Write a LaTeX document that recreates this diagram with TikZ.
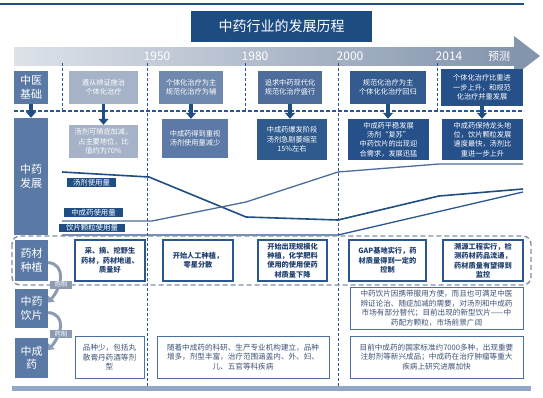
\documentclass[tikz,border=0pt]{standalone}
\usepackage{fontspec}
\setmainfont{Noto Sans CJK SC}
\newfontfamily\latinf{Carlito}
\usetikzlibrary{arrows.meta,calc}
\definecolor{navy}{HTML}{1F4E85}
\definecolor{titlec}{HTML}{1D4C82}
\definecolor{labc}{HTML}{5A79A5}
\definecolor{vline}{HTML}{2B5790}
\definecolor{ca}{HTML}{A5B2C8}
\definecolor{cb}{HTML}{7089AE}
\definecolor{cc}{HTML}{4D6C9B}
\definecolor{cd}{HTML}{335B8F}
\definecolor{ce}{HTML}{25508A}
\definecolor{cf}{HTML}{5D79A5}
\definecolor{cg}{HTML}{2E5A8E}
\definecolor{bandL}{HTML}{DDE2E9}
\definecolor{bandR}{HTML}{8394AD}
\definecolor{midline}{HTML}{4C6D9C}
\definecolor{wtext}{HTML}{1F3F6F}
\definecolor{gtext}{HTML}{3D5275}
\definecolor{rowdash}{HTML}{7F90A8}
\definecolor{curvec}{HTML}{8C9BB2}
\definecolor{barc}{HTML}{93A8C6}
\definecolor{pure}{HTML}{FFFFFF}
\tikzset{
  lab/.style={fill=labc, text=white, inner sep=0pt, align=center, font=\fontsize{11}{13.5}\selectfont},
  fbox/.style={text=white, inner sep=0pt, align=center, font=\fontsize{7.2}{9.3}\selectfont},
  wbox/.style={draw=vline, line width=1.2pt, fill=white, text=wtext, inner sep=0pt, align=center, font=\fontsize{7.2}{9.4}\bfseries\selectfont},
  tbox/.style={draw=vline!85, line width=1pt, fill=white, text=gtext, inner sep=0pt, align=center, font=\fontsize{7.6}{9.6}\selectfont},
  yearbox/.style={text=pure, inner sep=0pt, align=center, minimum height=13pt, font=\fontsize{12}{14}\selectfont},
  vdash/.style={draw=vline, line width=1pt, dash pattern=on 3pt off 2pt},
  downarr/.style={draw=navy, line width=3.6pt, -{Triangle[width=10pt,length=6pt]}},
  curlab/.style={fill=curvec, text=white, inner sep=0pt, minimum width=22pt, minimum height=8pt, font=\fontsize{6.3}{7}\selectfont},
  curarr/.style={draw=curvec, line width=3pt, -{Triangle[width=8.5pt,length=5pt]}},
  linelab/.style={fill=navy, text=white, inner sep=0pt, font=\fontsize{7.4}{8}\selectfont}
}
\begin{document}
\begin{tikzpicture}[x=1pt,y=-1pt]
\useasboundingbox (0,0) rectangle (543,398);
\fill[white] (0,0) rectangle (543,398);
% top rule
\draw[navy, line width=1.5pt] (0,4) -- (524,4);
% timeline band (stepped gradient)
\foreach \i in {0,...,99} {
  \pgfmathsetmacro\pp{\i}
  \fill[bandR!\pp!bandL] ({14+\i*5},47) rectangle ({14+(\i+1)*5+0.4},66);
}
\fill[bandR] (514,36) -- (540,56) -- (514,76) -- cycle;
% timeline labels
\node[yearbox, fill=bandR!29!bandL, minimum width=27pt] (y1950) at (157,56) {1950};
\node[yearbox, fill=bandR!48!bandL, minimum width=27pt] (y1980) at (255,56) {1980};
\node[yearbox, fill=bandR!67!bandL, minimum width=27pt] (y2000) at (350,56) {2000};
\node[yearbox, fill=bandR!87!bandL, minimum width=27pt] (y2014) at (449,56) {2014};
\node[yearbox, fill=bandR!97!bandL, minimum width=23pt, font=\fontsize{11}{13}\selectfont] (yfc) at (499,56) {预测};
% title
\node[fill=titlec, text=white, font=\fontsize{14}{16}\selectfont, minimum width=181pt, minimum height=31pt, inner sep=0pt] (title) at (281.5,26.5) {中药行业的发展历程};
% vertical dashed
\draw[vdash] (62,63) -- (62,111);
\draw[vdash] (147,63) -- (147,388);
\draw[vdash] (245,63) -- (245,111);
\draw[vdash] (338,63) -- (338,388);
\draw[vdash] (437,63) -- (437,111);
% horizontal dashed
\draw[draw=vline, line width=1.5pt, dash pattern=on 4pt off 2pt] (14,111) -- (524,111);
% row 1
\node[lab, minimum width=34pt, minimum height=33pt] (l1) at (31,87.5) {中医\\基础};
\node[fbox, fill=ca, minimum width=69pt, minimum height=33pt] (a1) at (103.5,87.5) {遵从辨证施治\\个体化治疗};
\node[fbox, fill=cb, minimum width=64pt, minimum height=33pt] (a2) at (191,87.5) {个体化治疗为主\\规范化治疗为辅};
\node[fbox, fill=cc, minimum width=64pt, minimum height=33pt] (a3) at (290,87.5) {追求中药现代化\\规范化治疗盛行};
\node[fbox, fill=cd, minimum width=76pt, minimum height=33pt] (a4) at (388,87.5) {规范化治疗为主\\个体化化治疗回归};
\node[fbox, fill=ce, minimum width=82pt, minimum height=37pt] (a5) at (482,87.5) {个体化治疗比重进\\一步上升，和规范\\化治疗并重发展};
% row 2
\node[lab, minimum width=34pt, minimum height=117pt] (l2) at (31,176.5) {中药\\发展};
\node[fbox, fill=ca, minimum width=69pt, minimum height=33pt] (b1) at (103.5,141.5) {汤剂可随症加减，\\占主要地位，比\\值约为70\%};
\node[fbox, fill=cf, minimum width=66pt, minimum height=39pt] (b2) at (195,138.5) {中成药得到重视\\汤剂使用量减少};
\node[fbox, fill=cg, minimum width=70pt, minimum height=41pt] (b3) at (292,139.5) {中成药爆发阶段\\汤剂急剧萎缩至\\15\%左右};
\node[fbox, fill=ce, minimum width=81pt, minimum height=41pt] (b4) at (388.5,139.5) {中成药平稳发展\\汤剂“复苏”\\中药饮片的出现迎\\合需求，发展迅猛};
\node[fbox, fill=ce, minimum width=81pt, minimum height=41pt] (b5) at (482.5,139.5) {中成药保持龙头地\\位，饮片颗粒发展\\速度最快，汤剂比\\重进一步上升};
% down arrows
\draw[downarr] (l1.south) -- (l2.north);
\draw[downarr] (a1.south) -- (b1.north);
\draw[downarr] (a2.south) -- (a2.south |- b2.north);
\draw[downarr] (a3.south) -- (a3.south |- b3.north);
\draw[downarr] (a4.south) -- (a4.south |- b4.north);
\draw[downarr] (a5.south) -- (a5.south |- b5.north);
% usage lines
\draw[navy, line width=1.6pt] (62,172) -- (149,177) -- (246,217) -- (338,220) -- (439,196) -- (523,189);
\draw[midline, line width=1.3pt] (62,221) -- (152,221) -- (246,202) -- (338,172) -- (439,164) -- (523,164);
\draw[vline, line width=1.3pt] (62,235) -- (338,235) -- (523,192);
\node[linelab, minimum width=49pt, minimum height=9pt] (t1) at (91.5,182.5) {汤剂使用量};
\node[linelab, minimum width=59pt, minimum height=9pt] (t2) at (93.5,212.5) {中成药使用量};
\node[linelab, minimum width=66pt, minimum height=8.5pt] (t3) at (92,228) {饮片颗粒使用量};
% row 3
\draw[rowdash, line width=1.4pt, dash pattern=on 5pt off 3pt, rounded corners=8pt] (12,236) rectangle (531,285);
\node[lab, minimum width=33pt, minimum height=41pt] (l3) at (31.5,260.5) {药材\\种植};
\node[wbox, minimum width=70pt, minimum height=41pt] (c1) at (110,260.5) {采、摘、挖野生\\药材，药材地道、\\质量好};
\node[wbox, minimum width=70pt, minimum height=41pt] (c2) at (198,260.5) {开始人工种植，\\零星分散};
\node[wbox, minimum width=69pt, minimum height=41pt] (c3) at (292.5,260.5) {开始出现规模化\\种植，化学肥料\\使用的使用使药\\材质量下降};
\node[wbox, minimum width=77pt, minimum height=41pt] (c4) at (387.5,260.5) {GAP基地实行，药\\材质量得到一定的\\控制};
\node[wbox, minimum width=80pt, minimum height=41pt] (c5) at (483,260.5) {溯源工程实行，检\\测药材药品流通，\\药材质量有望得到\\监控};
% row 4
\node[lab, minimum width=33pt, minimum height=39pt] (l4) at (31.5,308.5) {中药\\饮片};
\node[tbox, minimum width=173pt, minimum height=42pt] (d1) at (436.5,308) {中药饮片因携带服用方便，而且也可满足中医\\辨证论治、随症加减的需要，对汤剂和中成药\\市场有部分替代；目前出现的新型饮片——中\\药配方颗粒，市场前景广阔};
% row 5
\node[lab, minimum width=33pt, minimum height=40pt] (l5) at (31.5,358) {中成\\药};
\node[tbox, minimum width=69pt, minimum height=42pt] (e1) at (109.5,357) {品种少，包括丸\\散膏丹药酒等剂\\型};
\node[tbox, minimum width=172pt, minimum height=42pt] (e2) at (243,357) {随着中成药的科研、生产专业机构建立，品种\\增多，剂型丰富，治疗范围涵盖内、外、妇、\\儿、五官等科疾病};
\node[tbox, minimum width=173pt, minimum height=42pt] (e3) at (436.5,357) {目前中成药的国家标准约7000多种，出现重要\\注射剂等新兴成品；中成药在治疗肿瘤等重大\\疾病上研究进展加快};
% curved arrows
\draw[curarr] ([yshift=-2pt]l3.east) .. controls +(18,2) and +(14,-16) .. ([yshift=6pt]l4.east);
\draw[curarr] ([yshift=-4pt]l4.east) .. controls +(18,2) and +(14,-16) .. ([yshift=8pt]l5.east);
\node[curlab] (p1) at (61,284.5) {炮制};
\node[curlab] (p2) at (61,334) {药制};
% bottom bar
\fill[barc] (12,386) rectangle (531,391);
\end{tikzpicture}
\end{document}
